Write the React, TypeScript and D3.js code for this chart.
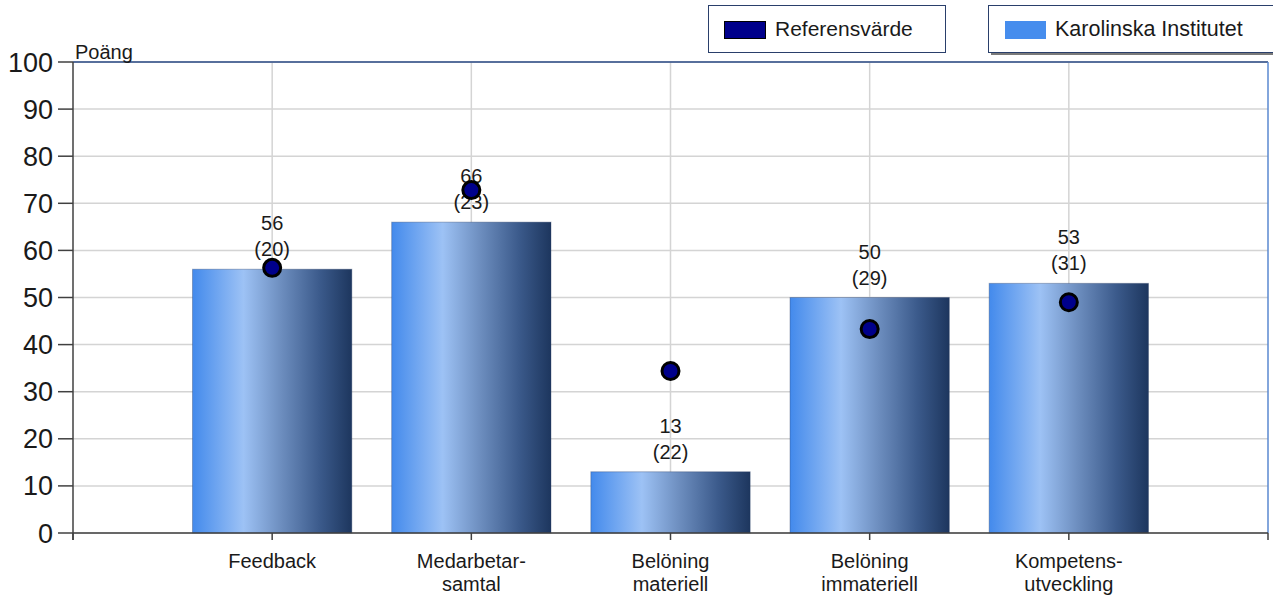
import React from "react";
import * as d3 from "d3";

const categories: string[][] = [
  ["Feedback"],
  ["Medarbetar-", "samtal"],
  ["Belöning", "materiell"],
  ["Belöning", "immateriell"],
  ["Kompetens-", "utveckling"],
];
const scores: number[] = [56, 66, 13, 50, 53];
const counts: number[] = [20, 23, 22, 29, 31];
const referenceValues: number[] = [56.3, 72.8, 34.4, 43.3, 49.0];
const yTicks: number[] = [0, 10, 20, 30, 40, 50, 60, 70, 80, 90, 100];

const W = 1273;
const H = 598;
const plot = { left: 73, right: 1268, top: 62, bottom: 533 };
const FONT = "'Liberation Sans', Arial, sans-serif";
const TEXT = "#1a1a1a";

export default function App() {
  // category slots: one empty slot on each side of the five groups
  const x = d3.scaleLinear().domain([0, categories.length + 1]).range([plot.left, plot.right]);
  const y = d3.scaleLinear().domain([0, 100]).range([plot.bottom, plot.top]);
  const slot = x(1) - x(0);
  const barW = slot * 0.8;
  const slotTicks = d3.range(categories.length + 2);

  return (
    <svg
      width={W}
      height={H}
      style={{ position: "absolute", left: 0, top: 0, background: "#fff" }}
      fontFamily={FONT}
    >
      <defs>
        <linearGradient id="barGrad" x1="0" x2="1" y1="0" y2="0">
          <stop offset="0" stopColor="#438aec" />
          <stop offset="0.32" stopColor="#9dc2f5" />
          <stop offset="0.55" stopColor="#6e8fc0" />
          <stop offset="0.8" stopColor="#3b5a8b" />
          <stop offset="1" stopColor="#1d365e" />
        </linearGradient>
      </defs>

      {/* horizontal grid */}
      {yTicks.map((t) => (
        <line key={"hg" + t} x1={plot.left} x2={plot.right} y1={y(t)} y2={y(t)} stroke="#d4d4d4" strokeWidth={1.5} />
      ))}
      {/* vertical grid at category centres */}
      {categories.map((_, i) => (
        <line key={"vg" + i} x1={x(i + 1)} x2={x(i + 1)} y1={plot.top} y2={plot.bottom} stroke="#d4d4d4" strokeWidth={1.5} />
      ))}

      {/* plot frame top and right */}
      <line x1={plot.left} x2={plot.right} y1={plot.top} y2={plot.top} stroke="#2a4a86" strokeWidth={1.5} />
      <line x1={plot.right} x2={plot.right} y1={plot.top} y2={plot.bottom} stroke="#5a88d0" strokeWidth={1.5} />

      {/* bars */}
      {scores.map((v, i) => (
        <rect
          key={"b" + i}
          x={x(i + 1) - barW / 2}
          y={y(v)}
          width={barW}
          height={y(0) - y(v)}
          fill="url(#barGrad)"
          stroke="rgba(40,60,100,0.35)"
          strokeWidth={1}
        />
      ))}

      {/* value labels */}
      {scores.map((v, i) => (
        <g key={"l" + i} fontSize={20} fill={TEXT} textAnchor="middle">
          <text x={x(i + 1)} y={y(v) - 39}>{v}</text>
          <text x={x(i + 1)} y={y(v) - 13}>({counts[i]})</text>
        </g>
      ))}

      {/* reference markers */}
      {referenceValues.map((v, i) => (
        <circle key={"r" + i} cx={x(i + 1)} cy={y(v)} r={8.5} fill="#00008b" stroke="#000" strokeWidth={3} />
      ))}

      {/* y axis */}
      <line x1={plot.left} x2={plot.left} y1={plot.top} y2={plot.bottom + 7} stroke="#404040" strokeWidth={1.5} />
      {yTicks.map((t) => (
        <g key={"yt" + t}>
          <line x1={plot.left - 15} x2={plot.left} y1={y(t)} y2={y(t)} stroke="#404040" strokeWidth={1.5} />
          <text x={plot.left - 20} y={y(t) + 9.5} fontSize={27} textAnchor="end" fill={TEXT}>
            {t}
          </text>
        </g>
      ))}
      <text x={plot.left + 2} y={plot.top - 3} fontSize={20} fill={TEXT}>
        Poäng
      </text>

      {/* x axis */}
      <line x1={plot.left} x2={plot.right} y1={plot.bottom} y2={plot.bottom} stroke="#404040" strokeWidth={1.5} />
      {slotTicks.map((s) => (
        <line key={"xt" + s} x1={x(s)} x2={x(s)} y1={plot.bottom} y2={plot.bottom + 7} stroke="#404040" strokeWidth={1.5} />
      ))}
      {categories.map((lines, i) => (
        <text key={"xl" + i} x={x(i + 1)} fontSize={20} textAnchor="middle" fill={TEXT}>
          {lines.map((ln, j) => (
            <tspan key={j} x={x(i + 1)} y={568 + j * 23}>
              {ln}
            </tspan>
          ))}
        </text>
      ))}

      {/* legend */}
      <g>
        <rect x={708.5} y={5.5} width={237} height={47} fill="#fff" stroke="#2a3f6b" strokeWidth={1} />
        <rect x={724.5} y={21.5} width={41} height={17} fill="#00008b" stroke="#000" strokeWidth={1} />
        <text x={775} y={36} fontSize={21} fill={TEXT}>
          Referensvärde
        </text>
      </g>
      <g>
        <rect x={991} y={8} width={300} height={47} fill="#7a7a7a" />
        <rect x={988.5} y={5.5} width={300} height={47} fill="#fff" stroke="#2a3f6b" strokeWidth={1} />
        <rect x={1005} y={21} width={41} height={18} fill="#468ded" />
        <text x={1055} y={36} fontSize={21.5} fill={TEXT}>
          Karolinska Institutet
        </text>
      </g>
    </svg>
  );
}
